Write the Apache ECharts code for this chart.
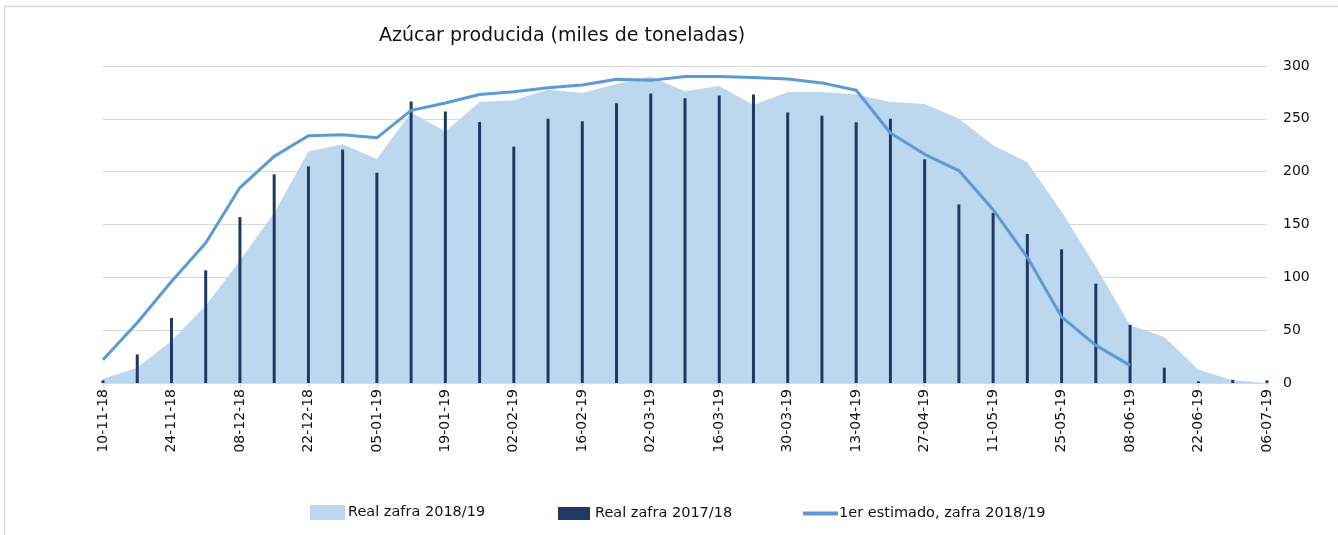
<!DOCTYPE html>
<html>
<head>
<meta charset="utf-8">
<script src="https://cdn.jsdelivr.net/npm/echarts@6/dist/echarts.min.js"></script>
<style>html,body{margin:0;padding:0;background:#fff}#c{width:1338px;height:535px}</style>
</head>
<body>
<div id="c"></div>
<script>
const categories = ['10-11-18','17-11-18','24-11-18','01-12-18','08-12-18','15-12-18','22-12-18','29-12-18','05-01-19','12-01-19','19-01-19','26-01-19','02-02-19','09-02-19','16-02-19','23-02-19','02-03-19','09-03-19','16-03-19','23-03-19','30-03-19','06-04-19','13-04-19','20-04-19','27-04-19','04-05-19','11-05-19','18-05-19','25-05-19','01-06-19','08-06-19','15-06-19','22-06-19','29-06-19','06-07-19'];
const real2018 = [4,14.5,40,73,116,161,219,226,212,256,238,266,267.5,277.6,274.4,283,290,276,281,263,275.4,275.4,273,266,264,250,225,209,162,110,54.6,43.5,12.6,2.5,0];
const real2017 = [2.5,27,61.5,106.6,157,197.5,205,221,199,266.5,257,247,223.7,250,247.6,264.7,274,269.4,272,273,256,253,246.7,250,211.7,169,161,141,126.5,94,55,14.5,1.6,3,2.5];
const estimate2018 = [22,57,96,132.5,185,214.5,234,235,232,258,265,273,275.7,279.5,282,287.4,286.4,290,290,289,287.7,284,277,236.6,216.4,201,164,119,62.5,35.6,16.7,null,null,null,null];
const yTicks = [0,50,100,150,200,250,300];
const titleText = 'Azúcar producida (miles de toneladas)';
const names = ['Real zafra 2018/19','Real zafra 2017/18','1er estimado, zafra 2018/19'];

const FONT = '"DejaVu Sans", "Open Sans", sans-serif';
const chart = echarts.init(document.getElementById('c'), null, {renderer:'canvas'});
chart.setOption({
  animation: false,
  backgroundColor: '#fff',
  textStyle: {fontFamily: FONT},
  graphic: [{
    type: 'rect', shape: {x: 4.5, y: 6.5, width: 1400, height: 600},
    style: {fill: 'none', stroke: '#d9d9d9', lineWidth: 1.5}, silent: true
  }],
  title: {
    text: titleText, left: 374, top: 22,
    textStyle: {fontFamily: FONT, fontSize: 19, fontWeight: 'normal', color: '#111'}
  },
  legend: [
    {data: [names[0]], left: 310, top: 505, padding: 0, icon: 'rect', itemWidth: 35, itemHeight: 15,
     itemStyle: {color: '#BDD7EE', borderWidth: 0},
     textStyle: {fontFamily: FONT, fontSize: 14.5, color: '#111', padding: [0,0,0,-2]}},
    {data: [names[1]], left: 558, top: 506, padding: 0, icon: 'rect', itemWidth: 32, itemHeight: 13,
     itemStyle: {color: '#1F3864'},
     textStyle: {fontFamily: FONT, fontSize: 14.5, color: '#111'}},
    {data: [names[2]], left: 803, top: 506, padding: 0, icon: 'rect', itemWidth: 35, itemHeight: 4,
     itemStyle: {color: '#5B9BD5'},
     textStyle: {fontFamily: FONT, fontSize: 14.5, color: '#111', padding: [0,0,0,-4]}}
  ],
  grid: {left: 103, right: 71, top: 66, bottom: 152, containLabel: false},
  xAxis: {
    type: 'category', data: categories, boundaryGap: false,
    axisLine: {lineStyle: {color: '#d9d9d9', width: 1}},
    axisTick: {show: true, interval: 1, length: 4, lineStyle: {color: '#d9d9d9'}},
    axisLabel: {interval: 1, rotate: 90, margin: 6, fontFamily: FONT, fontSize: 14, color: '#111'}
  },
  yAxis: {
    type: 'value', position: 'right', min: 0, max: 300, interval: 50,
    axisLine: {show: false}, axisTick: {show: false},
    splitLine: {lineStyle: {color: '#d9d9d9', width: 1}},
    axisLabel: {margin: 16, fontFamily: FONT, fontSize: 14, color: '#111'}
  },
  series: [
    {name: names[0], type: 'line', data: real2018, z: 1, symbol: 'none',
     lineStyle: {width: 0, opacity: 0}, itemStyle: {color: '#BDD7EE'},
     areaStyle: {color: '#BDD7EE', opacity: 1}},
    {name: names[1], type: 'bar', data: real2017, z: 2, barWidth: 3,
     itemStyle: {color: '#1F3864'}},
    {name: names[2], type: 'line', data: estimate2018, z: 3, symbol: 'none',
     lineStyle: {width: 3, color: '#5B9BD5'}, itemStyle: {color: '#5B9BD5'}}
  ]
});
</script>
</body>
</html>
